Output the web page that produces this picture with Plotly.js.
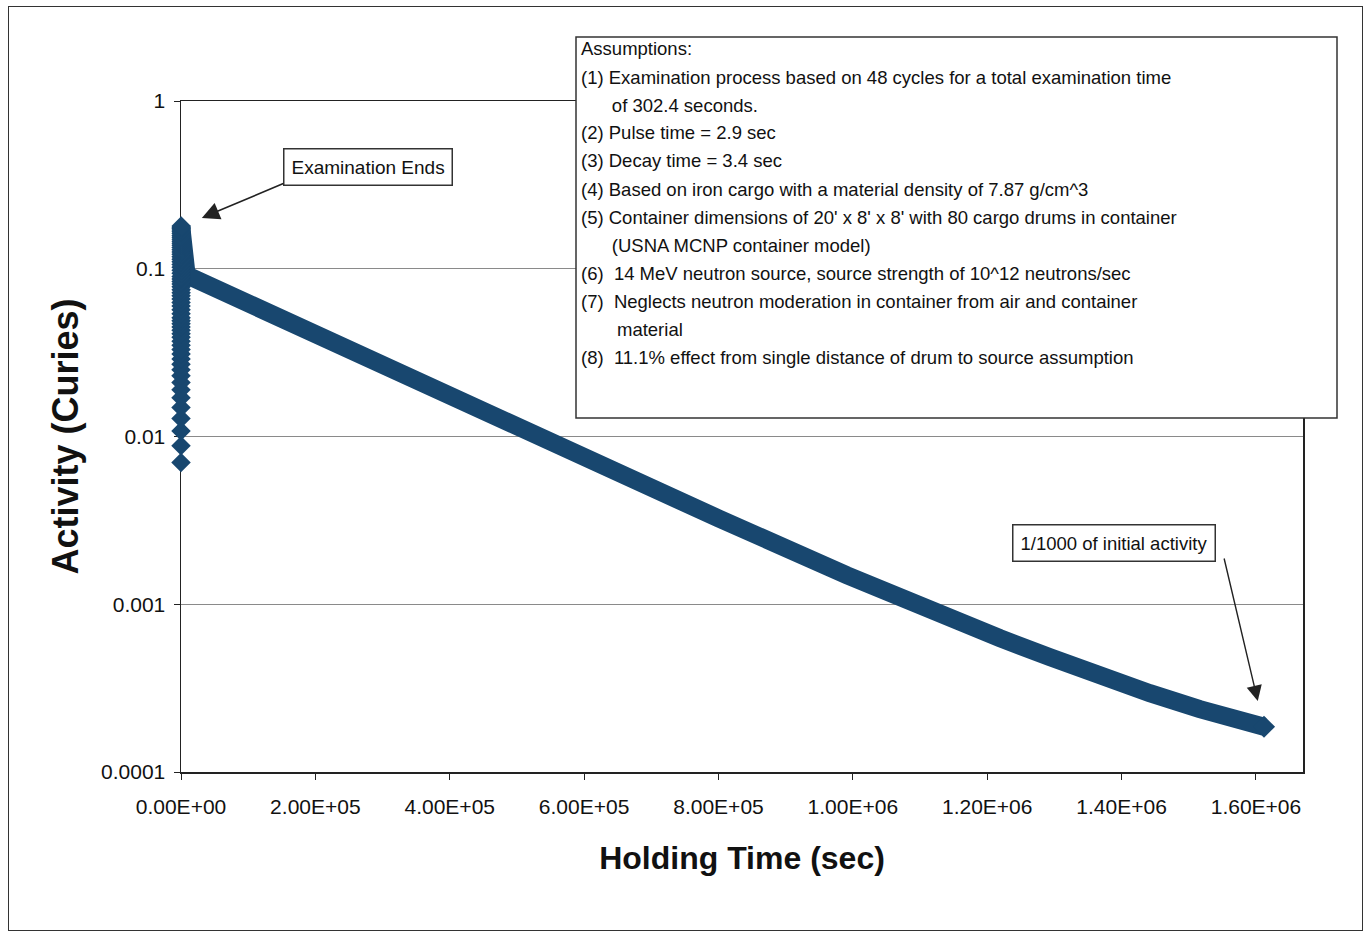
<!DOCTYPE html>
<html>
<head>
<meta charset="utf-8">
<script src="https://cdn.plot.ly/plotly-3.0.1.min.js"></script>
<style>
  html, body { margin: 0; padding: 0; background: #fff; }
  #wrap { position: relative; width: 1365px; height: 933px; }
  #chart { width: 1365px; height: 933px; }
  #frame { position: absolute; left: 8px; top: 6px; width: 1353px; height: 923px;
           border: 1.5px solid #333; pointer-events: none; }
</style>
</head>
<body>
<div id="wrap"><div id="chart"></div><div id="frame"></div></div>
<script>
// ---- Data ----
// Build-up during the 48-cycle examination (all within the first 302.4 s)
const buildupTime = [0,5,10,15,20,25,30,35,40,45,50,55,60,65,70,75,80,85,90,95,
  100,105,110,115,120,125,130,135,140,145,150,155,160,165,170,175,180,185,190,195,
  200,205,210,215,220,225,230,235,240,245,250,255,260,265,270,275,280,285,302];
const buildupActivity = [0.0070,0.0088,0.0108,0.0128,0.0149,0.0170,0.0190,0.0210,0.0230,0.0250,
  0.0270,0.0290,0.0310,0.0330,0.0350,0.0370,0.0390,0.0410,0.0430,0.0450,
  0.0470,0.0490,0.0510,0.0540,0.0570,0.0600,0.0630,0.0660,0.0690,0.0720,
  0.0750,0.0780,0.0810,0.0840,0.0870,0.0900,0.0940,0.0980,0.1020,0.1060,
  0.1100,0.1140,0.1180,0.1220,0.1260,0.1300,0.1340,0.1380,0.1420,0.1460,
  0.1500,0.1540,0.1580,0.1620,0.1660,0.1700,0.1740,0.1770,0.1800];

// Decay after the examination ends (holding time)
const decayTime = [302,1500,3000,5000,8000,13400,200000,400000,530000,594000,742600,
  800000,991100,1089300,1144300,1218800,1293200,1367600,1442000,1516400,1590800,1612000];
const decayActivity = [0.18,0.15,0.122,0.104,0.095,0.0896,0.0402,0.0172,0.00986,0.0076,0.0041,
  0.00325,0.00149,0.00101,0.00082,0.000628,0.000484,0.000373,0.000295,0.000237,0.000196,0.000186];

const xTickVals = [0,200000,400000,600000,800000,1000000,1200000,1400000,1600000];
const xTickText = ['0.00E+00','2.00E+05','4.00E+05','6.00E+05','8.00E+05','1.00E+06','1.20E+06','1.40E+06','1.60E+06'];
const yTickVals = [0.0001,0.001,0.01,0.1,1];
const yTickText = ['0.0001','0.001','0.01','0.1','1'];

const assumptions = [
  'Assumptions:',
  '(1) Examination process based on 48 cycles for a total examination time',
  '\u00a0\u00a0\u00a0\u00a0\u00a0\u00a0of 302.4 seconds.',
  '(2) Pulse time = 2.9 sec',
  '(3) Decay time = 3.4 sec',
  '(4) Based on iron cargo with a material density of 7.87 g/cm^3',
  "(5) Container dimensions of 20' x 8' x 8' with 80 cargo drums in container",
  '\u00a0\u00a0\u00a0\u00a0\u00a0\u00a0(USNA MCNP container model)',
  '(6)\u00a0\u00a014 MeV neutron source, source strength of 10^12 neutrons/sec',
  '(7)\u00a0\u00a0Neglects neutron moderation in container from air and container',
  '\u00a0\u00a0\u00a0\u00a0\u00a0\u00a0\u00a0material',
  '(8)\u00a0\u00a011.1% effect from single distance of drum to source assumption'
];

const navy = '#18476f';
const FONT = 'Liberation Sans, Arial, sans-serif';

// plot-area geometry in pixels (for placing decorations in paper coords)
const PL = 181, PR = 1303, PT = 101, PB = 772;
const px = v => (v - PL) / (PR - PL);
const py = v => (PB - v) / (PB - PT);

const traces = [
  {
    x: decayTime, y: decayActivity, type: 'scatter', mode: 'lines',
    line: { color: navy, width: 18 },
    cliponaxis: false, hoverinfo: 'x+y'
  },
  {
    x: decayTime.slice(-1), y: decayActivity.slice(-1), type: 'scatter', mode: 'markers',
    marker: { symbol: 'diamond', size: 17, color: navy },
    cliponaxis: false, hoverinfo: 'x+y'
  },
  {
    x: buildupTime, y: buildupActivity, type: 'scatter', mode: 'markers',
    marker: { symbol: 'diamond', size: 15, color: navy, line: { width: 0 } },
    cliponaxis: false, hoverinfo: 'x+y'
  }
];

const annotations = assumptions.map((t, i) => ({
  xref: 'paper', yref: 'paper', x: px(579), y: py(49 + 28 * i),
  xanchor: 'left', yanchor: 'middle', align: 'left',
  text: t, showarrow: false,
  font: { family: FONT, size: 18.5, color: '#111' }
}));

annotations.push(
  {
    xref: 'paper', yref: 'paper', x: px(368), y: py(167),
    xanchor: 'center', yanchor: 'middle', text: 'Examination Ends', showarrow: false,
    font: { family: FONT, size: 19, color: '#111' },
    bgcolor: '#ffffff', bordercolor: '#333', borderwidth: 1.5, borderpad: 7
  },
  {
    x: 31000, y: Math.log10(0.201), xref: 'x', yref: 'y', text: '',
    showarrow: true, axref: 'pixel', ayref: 'pixel', ax: 83, ay: -35,
    arrowhead: 2, arrowsize: 2.2, arrowwidth: 1.6, arrowcolor: '#222'
  },
  {
    xref: 'paper', yref: 'paper', x: px(1114), y: py(543),
    xanchor: 'center', yanchor: 'middle', text: '1/1000 of initial activity', showarrow: false,
    font: { family: FONT, size: 18.5, color: '#111' },
    bgcolor: '#ffffff', bordercolor: '#333', borderwidth: 1.5, borderpad: 7
  },
  {
    x: 1602700, y: Math.log10(0.000265), xref: 'x', yref: 'y', text: '',
    showarrow: true, axref: 'pixel', ayref: 'pixel', ax: -34, ay: -144,
    arrowhead: 2, arrowsize: 2.2, arrowwidth: 1.4, arrowcolor: '#222'
  }
);

const layout = {
  width: 1365, height: 933,
  margin: { l: PL, r: 1365 - PR, t: PT, b: 933 - PB },
  paper_bgcolor: '#ffffff', plot_bgcolor: '#ffffff',
  showlegend: false,
  font: { family: FONT, color: '#111', size: 21 },
  xaxis: {
    range: [0, 1670000], tickvals: xTickVals, ticktext: xTickText,
    ticks: 'outside', ticklen: 6, tickcolor: '#222', tickwidth: 1,
    showline: true, linecolor: '#222', linewidth: 1.5, mirror: true,
    showgrid: false, zeroline: false, ticklabelstandoff: 9,
    tickfont: { family: FONT, size: 21, color: '#111' },
    title: { text: 'Holding Time (sec)', font: { family: FONT, size: 32, color: '#111', weight: 'bold' }, standoff: 30 }
  },
  yaxis: {
    type: 'log', range: [-4, 0], tickvals: yTickVals, ticktext: yTickText,
    ticks: 'outside', ticklen: 6, tickcolor: '#222', tickwidth: 1,
    showline: true, linecolor: '#222', linewidth: 1.5, mirror: true,
    showgrid: true, gridcolor: '#8a8a8a', gridwidth: 1, zeroline: false,
    layer: 'below traces', ticklabelstandoff: 4,
    tickfont: { family: FONT, size: 21, color: '#111' },
    title: { text: 'Activity (Curies)', font: { family: FONT, size: 36, color: '#111', weight: 'bold' }, standoff: 11 }
  },
  shapes: [
    {
      type: 'rect', xref: 'paper', yref: 'paper', layer: 'above',
      x0: px(576), x1: px(1337), y0: py(418), y1: py(37),
      fillcolor: '#ffffff', line: { color: '#333', width: 1.5 }
    }
  ],
  annotations: annotations
};

Plotly.newPlot('chart', traces, layout, { displayModeBar: false, staticPlot: true });
</script>
</body>
</html>
